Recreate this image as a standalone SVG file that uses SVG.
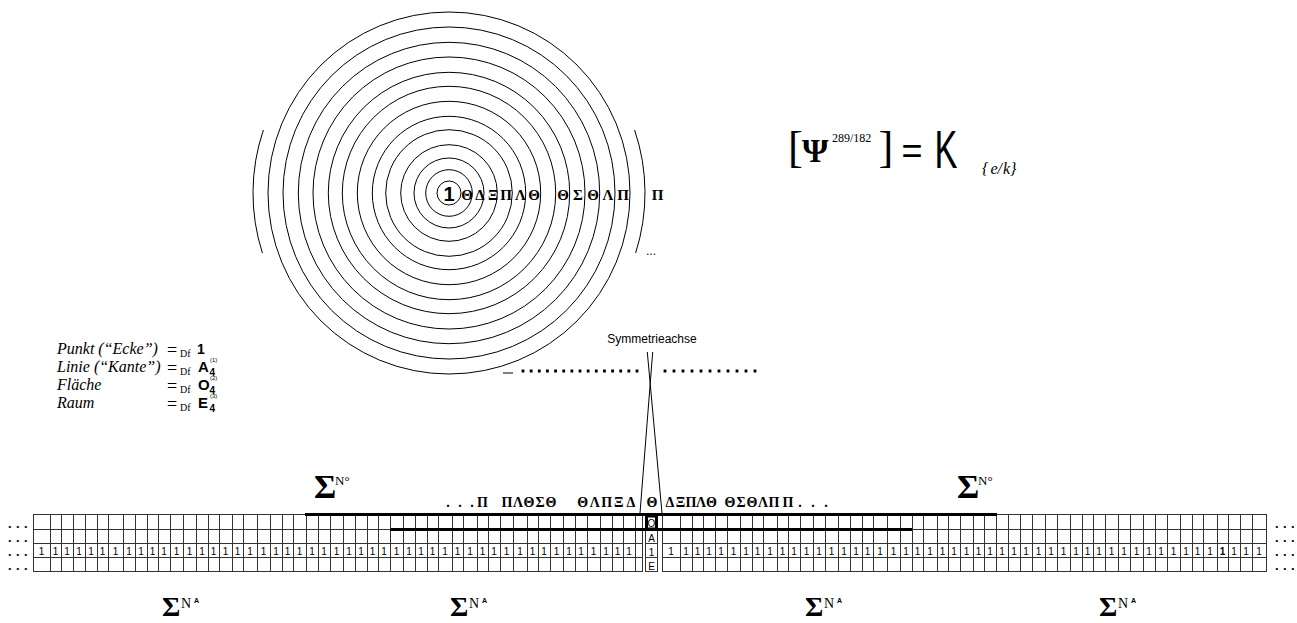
<svg xmlns="http://www.w3.org/2000/svg" width="1297" height="623" viewBox="0 0 1297 623">
<style>
.ser{font-family:"Liberation Serif","Times New Roman",serif}
.san{font-family:"Liberation Sans",Arial,sans-serif}
.gk{font-family:"Liberation Serif","Times New Roman",serif;font-weight:bold;font-size:14px;text-anchor:middle}
.gk2{font-family:"Liberation Serif","Times New Roman",serif;font-weight:bold;font-size:15px;text-anchor:middle}
.one{font-family:"Liberation Sans",Arial,sans-serif;font-size:10px;text-anchor:middle}
.ring{fill:none;stroke:#000;stroke-width:1}
.grid{fill:none;stroke:#333;stroke-width:1}
.thick{fill:none;stroke:#000;stroke-width:3}
.leg{font-family:"Liberation Serif","Times New Roman",serif;font-style:italic;font-size:16px}
.eq{font-family:"Liberation Serif","Times New Roman",serif;font-size:18px}
.df{font-family:"Liberation Serif","Times New Roman",serif;font-size:10px}
.bs{font-family:"Liberation Sans",Arial,sans-serif;font-weight:bold}
.dots{font-family:"Liberation Sans",Arial,sans-serif;font-weight:bold;font-size:13px;letter-spacing:4.4px}
.sig{font-family:"Liberation Serif","Times New Roman",serif;font-weight:bold}
</style>

<g id="rings">
<circle class="ring" cx="449" cy="193" r="12"/>
<circle class="ring" cx="449" cy="193" r="23.3"/>
<circle class="ring" cx="449" cy="193" r="35"/>
<circle class="ring" cx="449" cy="193" r="48.3"/>
<circle class="ring" cx="449" cy="193" r="63.3"/>
<circle class="ring" cx="449" cy="193" r="76.7"/>
<circle class="ring" cx="449" cy="193" r="91.7"/>
<circle class="ring" cx="449" cy="193" r="106.7"/>
<circle class="ring" cx="449" cy="193" r="120.7"/>
<circle class="ring" cx="449" cy="193" r="136"/>
<circle class="ring" cx="449" cy="193" r="150.7"/>
<circle class="ring" cx="449" cy="193" r="166"/>
<circle class="ring" cx="449" cy="193" r="181"/>
<path class="ring" d="M263.4 130A196 196 0 0 0 262.4 253"/>
<path class="ring" d="M634.6 130A196 196 0 0 1 635.6 253"/>
<text class="bs" x="449" y="200.5" font-size="20" text-anchor="middle">1</text>
<text class="gk2" x="467 480 493 506 520.5 534" y="199.5">ΘΔΞΠΛΘ</text>
<text class="gk2" x="563 578 593 608 623" y="199.5">ΘΣΘΛΠ</text>
<text class="gk2" x="657.5" y="199.5">Π</text>
<text class="san" x="646" y="254.5" font-size="12">...</text>
</g>

<g id="formula">
<text class="ser" x="788" y="161.7" font-size="44.5">[</text>
<text class="ser" x="802" y="162" font-size="34" font-weight="bold">Ψ</text>
<text class="ser" x="832" y="142" font-size="12">289/182</text>
<text class="ser" x="878.5" y="161.7" font-size="44.5">]</text>
<text class="san" x="901.5" y="163" font-size="36">=</text>
<text class="san" transform="translate(934.5,168) scale(0.65,1)" font-size="53">K</text>
<text class="ser" x="982" y="174" font-size="16" font-style="italic">{<tspan dx="2">e</tspan>/<tspan dx="1">k</tspan>}</text>
</g>

<g id="legend">
<text class="leg" x="57" y="354">Punkt (“Ecke”)</text>
<text class="leg" x="57" y="372">Linie (“Kante”)</text>
<text class="leg" x="57" y="390">Fläche</text>
<text class="leg" x="57" y="408">Raum</text>
<text class="eq" x="167" y="356">=</text>
<text class="eq" x="167" y="374">=</text>
<text class="eq" x="167" y="392">=</text>
<text class="eq" x="167" y="410">=</text>
<text class="df" x="180" y="357">Df</text>
<text class="df" x="180" y="375">Df</text>
<text class="df" x="180" y="393">Df</text>
<text class="df" x="180" y="411">Df</text>
<text class="bs" x="197" y="354" font-size="14">1</text>
<text class="bs" x="198" y="372" font-size="15">A</text>
<text class="bs" x="209.5" y="375.5" font-size="10">4</text>
<text class="san" x="210" y="362" font-size="6">(1)</text>
<text class="bs" x="198" y="390" font-size="15">O</text>
<text class="bs" x="209.5" y="393.5" font-size="10">4</text>
<text class="san" x="210" y="380" font-size="6">(2)</text>
<text class="bs" x="198" y="408" font-size="15">E</text>
<text class="bs" x="209.5" y="411.5" font-size="10">4</text>
<text class="san" x="210" y="398" font-size="6">(3)</text>
</g>

<g id="axis-label">
<text class="san" x="652" y="343" font-size="12" text-anchor="middle">Symmetrieachse</text>
</g>

<g id="connectors">
<line x1="647.3" y1="352" x2="662" y2="513" stroke="#000" stroke-width="1"/>
<line x1="652.7" y1="352" x2="640" y2="513" stroke="#000" stroke-width="1"/>
<line x1="503" y1="373" x2="513" y2="373" stroke="#000" stroke-width="1"/>
<line x1="523" y1="371" x2="638" y2="371" stroke="#000" stroke-width="2.8" stroke-linecap="square" stroke-dasharray="0 8.143"/>
<line x1="665" y1="371" x2="756" y2="371" stroke="#000" stroke-width="2.8" stroke-linecap="square" stroke-dasharray="0 9"/>
</g>

<g id="grid">
<path class="grid" d="M33 514.5H642.5M33 529.5H642.5M33 543.5H642.5M33 557.5H642.5M33 571.5H642.5M662 514.5H1266.5M662 529.5H1266.5M662 543.5H1266.5M662 557.5H1266.5M662 571.5H1266.5"/>
<path class="grid" d="M33.5 514v58M50.5 514v58M61.5 514v58M73.5 514v58M85.5 514v58M97.5 514v58M108.5 514v58M123.5 514v58M135.5 514v58M147.5 514v58M158.5 514v58M170.5 514v58M183.5 514v58M196.5 514v58M208.5 514v58M219.5 514v58M232.5 514v58M243.5 514v58M257.5 514v58M270.5 514v58M282.5 514v58M293.5 514v58M306.5 514v58M318.5 514v58M330.5 514v58M343.5 514v58M355.5 514v58M367.5 514v58M378.5 514v58M390.5 514v58M403.5 514v58M415.5 514v58M427.5 514v58M438.5 514v58M452.5 514v58M463.5 514v58M477.5 514v58M488.5 514v58M500.5 514v58M513.5 514v58M527.5 514v58M538.5 514v58M550.5 514v58M563.5 514v58M575.5 514v58M587.5 514v58M600.5 514v58M612.5 514v58M623.5 514v58M635.5 514v58M642.5 514v58"/>
<path class="grid" d="M662.5 514v58M680.5 514v58M692.5 514v58M703.5 514v58M715.5 514v58M727.5 514v58M740.5 514v58M752.5 514v58M763.5 514v58M777.5 514v58M788.5 514v58M800.5 514v58M813.5 514v58M825.5 514v58M838.5 514v58M850.5 514v58M862.5 514v58M873.5 514v58M887.5 514v58M900.5 514v58M912.5 514v58M923.5 514v58M937.5 514v58M948.5 514v58M960.5 514v58M973.5 514v58M984.5 514v58M996.5 514v58M1008.5 514v58M1020.5 514v58M1032.5 514v58M1045.5 514v58M1057.5 514v58M1070.5 514v58M1082.5 514v58M1093.5 514v58M1105.5 514v58M1118.5 514v58M1130.5 514v58M1143.5 514v58M1155.5 514v58M1167.5 514v58M1180.5 514v58M1192.5 514v58M1203.5 514v58M1217.5 514v58M1228.5 514v58M1240.5 514v58M1252.5 514v58M1266.5 514v58"/>
<path class="grid" d="M645.5 529v43M657.5 529v43M645 543.5H658M645 557.5H658M645 571.5H658"/>
<line class="thick" x1="305" y1="514.5" x2="997" y2="514.5"/>
<line class="thick" x1="390" y1="529.5" x2="912" y2="529.5"/>
<rect class="thick" x="646.5" y="516" width="10" height="13"/>
<text class="san" x="651.5" y="527" font-size="10" text-anchor="middle">O</text>
<text class="san" x="651.5" y="541.5" font-size="10" text-anchor="middle">A</text>
<text class="san" x="651.5" y="555.5" font-size="10" text-anchor="middle">1</text>
<text class="san" x="651.5" y="569.5" font-size="10" text-anchor="middle">E</text>
<text class="one" x="41.5 55.5 67 79 91 102.5 115.5 129 141 152.5 164 176.5 189.5 202 213.5 225.5 237.5 250 263.5 276 287.5 299.5 312 324 336.5 349 361 372.5 384 396.5 409 421 432.5 445 457.5 470 482.5 494 506.5 520 532.5 544 556.5 569 581 593.5 606 617.5 629" y="554.5">1111111111111111111111111111111111111111111111111</text>
<text class="one" x="671 686 697.5 709 721 733.5 746 757.5 770 782.5 794 806.5 819 831.5 844 856 867.5 880 893.5 906 917.5 930 942.5 954 966.5 978.5 990 1002 1014 1026 1038.5 1051 1063.5 1076 1087.5 1099 1111.5 1124 1136.5 1149 1161 1173.5 1186 1197.5 1210 1222.5 1234 1246 1259" y="554.5">111111111111111111111111111111111111111111111<tspan font-weight="bold">1</tspan>111</text>
<text class="dots" x="8" y="527.5">...</text>
<text class="dots" x="8" y="541.5">...</text>
<text class="dots" x="8" y="555.5">...</text>
<text class="dots" x="8" y="570">...</text>
<text class="dots" x="1275" y="527.5">...</text>
<text class="dots" x="1275" y="541.5">...</text>
<text class="dots" x="1275" y="555.5">...</text>
<text class="dots" x="1275" y="570">...</text>
</g>

<g id="greek-row">
<text class="gk" x="448 460 472 482.5" y="506.5">...Π</text>
<text class="gk" x="507 518 529 540 551" y="506.5">ΠΛΘΣΘ</text>
<text class="gk" x="582.7 594.7 606.7 618.7 631" y="506.5">ΘΛΠΞΔ</text>
<text class="gk" x="652" y="506.5">Θ</text>
<text class="gk" x="670 680.5 691 701 711.5" y="506.5">ΔΞΠΛΘ</text>
<text class="gk" x="730 741 752 763 774" y="506.5">ΘΣΘΛΠ</text>
<text class="gk" x="788 800 813 826" y="506.5">Π...</text>
</g>

<g id="sum-top-left">
<text class="sig" x="314" y="498" font-size="34">Σ</text>
<text class="ser" x="335" y="485" font-size="13">N°</text>
</g>
<g id="sum-top-right">
<text class="sig" x="957" y="498" font-size="34">Σ</text>
<text class="ser" x="978" y="485" font-size="13">N°</text>
</g>

<g id="sum-bottom-1">
<text class="sig" x="162" y="616" font-size="28">Σ</text>
<text class="ser" x="181" y="608" font-size="14">N</text>
<text class="bs" x="194" y="603" font-size="7">A</text>
</g>
<g id="sum-bottom-2">
<text class="sig" x="450" y="616" font-size="28">Σ</text>
<text class="ser" x="469" y="608" font-size="14">N</text>
<text class="bs" x="482" y="603" font-size="7">A</text>
</g>
<g id="sum-bottom-3">
<text class="sig" x="805" y="616" font-size="28">Σ</text>
<text class="ser" x="824" y="608" font-size="14">N</text>
<text class="bs" x="837" y="603" font-size="7">A</text>
</g>
<g id="sum-bottom-4">
<text class="sig" x="1099" y="616" font-size="28">Σ</text>
<text class="ser" x="1118" y="608" font-size="14">N</text>
<text class="bs" x="1131" y="603" font-size="7">A</text>
</g>
</svg>
